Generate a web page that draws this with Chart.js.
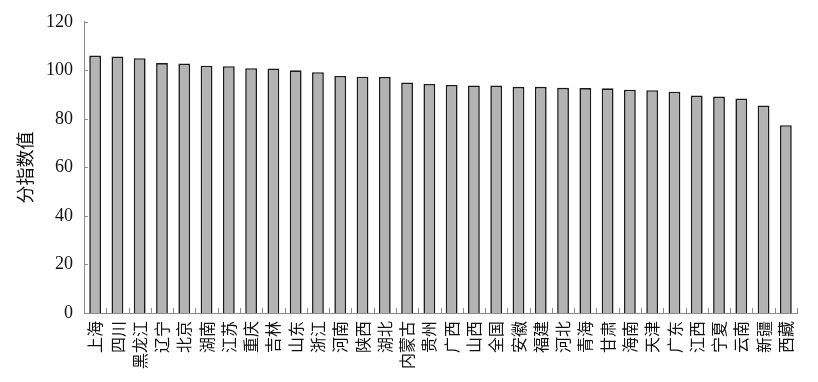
<!DOCTYPE html>
<html>
<head>
<meta charset="utf-8">
<script src="https://cdn.jsdelivr.net/npm/chart.js@4.4.1/dist/chart.umd.min.js"></script>
<style>
    html, body { margin: 0; padding: 0; background: #fff; }
    #wrap { width: 818px; height: 382px; }
</style>
</head>
<body>
<div id="wrap"><canvas id="indexChart" width="818" height="382"></canvas></div>
<script>
const regions = ["上海", "四川", "黑龙江", "辽宁", "北京", "湖南", "江苏", "重庆", "吉林", "山东",
    "浙江", "河南", "陕西", "湖北", "内蒙古", "贵州", "广西", "山西", "全国", "安徽",
    "福建", "河北", "青海", "甘肃", "海南", "天津", "广东", "江西", "宁夏", "云南",
    "新疆", "西藏"];
const values = [106.1, 105.7, 105.0, 103.0, 102.8, 101.9, 101.7, 100.9, 100.8, 100.0,
    99.2, 97.7, 97.4, 97.3, 95.0, 94.4, 94.0, 93.8, 93.7, 93.2,
    93.2, 92.8, 92.7, 92.6, 92.0, 91.8, 91.2, 89.6, 89.2, 88.4,
    85.5, 77.4];
const yTicks = [0, 20, 40, 60, 80, 100, 120];
const yTitle = "分指数值";

const serif = "'Liberation Serif', serif";
const cjk = "'Noto Sans CJK SC', sans-serif";
const axisColor = "#8c8c8c";

// inward tick marks like the original
const innerTicks = {
    id: "innerTicks",
    afterDraw(c) {
        const ctx = c.ctx;
        const x = c.scales.x, y = c.scales.y;
        ctx.save();
        ctx.strokeStyle = axisColor;
        ctx.lineWidth = 1;
        ctx.beginPath();
        yTicks.forEach(v => {
            const py = Math.round(y.getPixelForValue(v)) + 0.5;
            ctx.moveTo(x.left, py);
            ctx.lineTo(x.left + 4, py);
        });
        for (let i = 0; i <= regions.length; i++) {
            const px = Math.round(x.left + (x.right - x.left) * i / regions.length) + 0.5;
            ctx.moveTo(px, y.bottom);
            ctx.lineTo(px, y.bottom - 5);
        }
        ctx.stroke();
        ctx.restore();
    }
};

new Chart(document.getElementById("indexChart"), {
    type: "bar",
    data: {
        labels: regions,
        datasets: [{
            data: values,
            backgroundColor: "#b3b3b3",
            borderColor: "#1a1a1a",
            borderWidth: 1.6,
            barPercentage: 0.53,
            categoryPercentage: 1
        }]
    },
    options: {
        responsive: false,
        animation: false,
        layout: { padding: { top: 17, right: 21, left: 14, bottom: 0 } },
        plugins: { legend: { display: false }, tooltip: { enabled: false } },
        scales: {
            x: {
                grid: { display: false, drawTicks: false },
                border: { color: axisColor, width: 1 },
                ticks: {
                    color: "#111",
                    font: { family: cjk, size: 16 },
                    maxRotation: 90, minRotation: 90, autoSkip: false,
                    padding: 8
                },
                afterFit(s) { s.height = 69; }
            },
            y: {
                min: 0, max: 120,
                afterBuildTicks(s) { s.ticks = yTicks.map(v => ({ value: v })); },
                grid: { display: false, drawTicks: false },
                border: { color: axisColor, width: 1 },
                ticks: {
                    color: "#111",
                    font: { family: serif, size: 18 },
                    padding: 11
                },
                title: {
                    display: true,
                    text: yTitle,
                    color: "#111",
                    font: { family: cjk, size: 18 },
                    padding: 0
                },
                afterFit(s) { s.width = 70; }
            }
        }
    },
    plugins: [innerTicks]
});
</script>
</body>
</html>
